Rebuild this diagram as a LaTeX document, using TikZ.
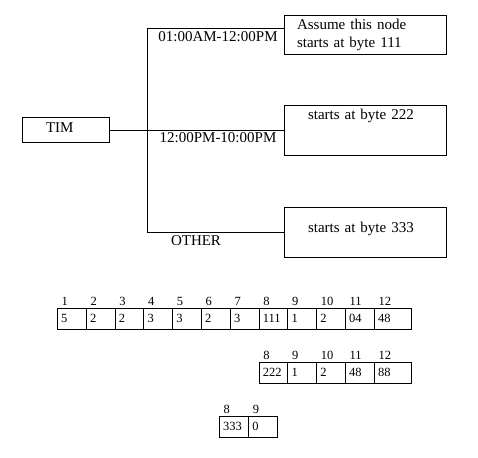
\documentclass[tikz,border=0pt]{standalone}
\usepackage{fontspec}
\setmainfont{Liberation Serif}
\usepackage{tikz}
\usetikzlibrary{positioning}

\tikzset{
  recbox/.style={draw, minimum width=162pt, align=left, inner xsep=24pt, text width=114pt,
    font=\fontsize{15}{18}\selectfont},
  lbl/.style={inner sep=0pt, font=\fontsize{15}{18}\selectfont},
  cell/.style={draw, anchor=west, minimum height=21pt, inner xsep=4pt, text width=20.8pt,
    align=left, font=\fontsize{12.5}{14}\selectfont},
  lastcell/.style={cell, text width=29pt},
  hdr/.style={anchor=south west, inner xsep=4.5pt, inner ysep=2pt, font=\fontsize{12.5}{14}\selectfont}
}

\begin{document}
\begin{tikzpicture}[x=1pt, y=-1pt]
\useasboundingbox (0,0) rectangle (478,457);

% tree
\node[draw, minimum width=87pt, minimum height=25pt, font=\fontsize{15}{18}\selectfont,
  align=left, inner xsep=24pt, text width=39pt,
  text height=10pt, text depth=6pt] (tim) at (65.5,130) {TIM};
\node[recbox, minimum height=39pt, inner xsep=13pt, text width=136pt] (b1) at (365,34.5)
  {Assume this node\\starts at byte 111};
\node[recbox, minimum height=50pt, text height=10pt, text depth=30pt] (b2) at (365,130)
  {starts at byte 222};
\node[recbox, minimum height=50pt, text height=20pt, text depth=20pt] (b3) at (365,232)
  {starts at byte 333};

\coordinate (top) at (147,28);
\coordinate (bot) at (147,232);
\draw (b1.west |- top) -- (top) -- (bot) -- (b3.west);
\draw (tim.east) -- (b2.west);

\node[lbl] (l1) at (218,37) {01:00AM-12:00PM};
\node[lbl] (l2) at (218,138) {12:00PM-10:00PM};
\node[lbl] (l3) at (196,241) {OTHER};

% node records
\foreach \v [count=\i] in {5,2,2,3,3,2,3,111,1,2,04} {
  \node[cell] (ra\i) at ({57+28.8*(\i-1)},318.5) {\v};
  \node[hdr] (ha\i) at (ra\i.north west) {\i};
}
\node[lastcell] (ra12) at (373.8,318.5) {48};
\node[hdr] (ha12) at (ra12.north west) {12};

\foreach \v [count=\i from 8] in {222,1,2,48} {
  \node[cell] (rb\i) at ({57+28.8*(\i-1)},372.5) {\v};
  \node[hdr] (hb\i) at (rb\i.north west) {\i};
}
\node[lastcell] (rb12) at (373.8,372.5) {88};
\node[hdr] (hb12) at (rb12.north west) {12};

\node[cell] (rc8) at (219,426.5) {333};
\node[hdr] (hc8) at (rc8.north west) {8};
\node[cell] (rc9) at (rc8.east) {0};
\node[hdr] (hc9) at (rc9.north west) {9};
\end{tikzpicture}
\end{document}
